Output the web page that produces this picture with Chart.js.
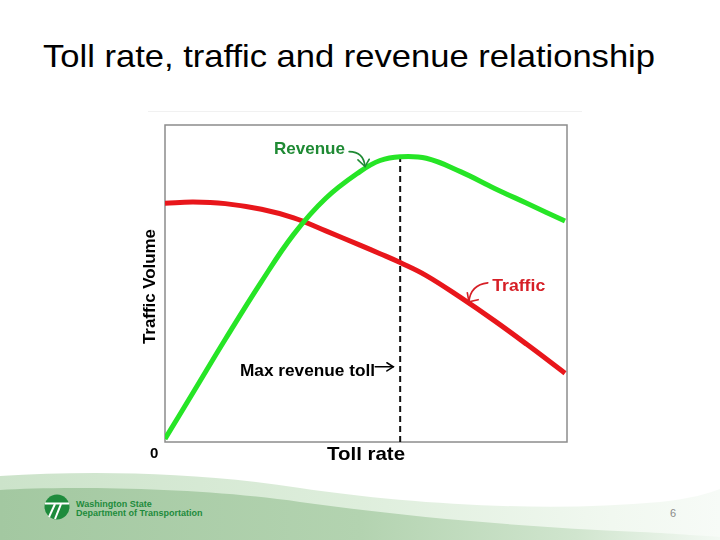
<!DOCTYPE html>
<html>
<head>
<meta charset="utf-8">
<script src="https://cdn.jsdelivr.net/npm/chart.js@4/dist/chart.umd.min.js"></script>
<style>
  html, body { margin: 0; padding: 0; background: #fff; }
  body { width: 720px; height: 540px; position: relative; overflow: hidden; font-family: 'Liberation Sans', Arial, sans-serif; }
  #title { position: absolute; left: 43px; top: 40px; font-size: 32px; line-height: 32px; color: #000; white-space: nowrap; transform-origin: 0 0; }
  #footer { position: absolute; left: 0; top: 0; }
  #chartWrap { position: absolute; left: 0; top: 0; width: 720px; height: 540px; }
  .org { position: absolute; left: 76px; font-size: 9px; font-weight: bold; color: #1e8b3c; white-space: nowrap; line-height: 9px; }
  #page { position: absolute; left: 670px; top: 508px; font-size: 11px; line-height: 11px; color: #8a8a8a; }
  #frame { position: absolute; left: 148px; top: 111px; width: 434px; height: 0; border-top: 1px solid #f1f1f1; }
</style>
</head>
<body>
<svg id="footer" width="720" height="540" viewBox="0 0 720 540">
  <defs>
    <linearGradient id="gLight" x1="0" y1="0" x2="1" y2="0">
      <stop offset="0" stop-color="#cce3ca"/>
      <stop offset="0.5" stop-color="#deeedc"/>
      <stop offset="0.85" stop-color="#f1f8f0"/>
      <stop offset="1" stop-color="#f7fbf7"/>
    </linearGradient>
    <linearGradient id="gDark" x1="0" y1="0" x2="1" y2="0">
      <stop offset="0" stop-color="#a3c8a1"/>
      <stop offset="0.5" stop-color="#b3d3b0"/>
      <stop offset="0.8" stop-color="#d0e5ce"/>
      <stop offset="1" stop-color="#f3f9f3"/>
    </linearGradient>
  </defs>
  <path d="M0,476 C90,470 200,472 300,488 C400,503 540,513 660,502 C690,499 710,493 720,489 L720,540 L0,540 Z" fill="url(#gLight)"/>
  <path d="M0,490 C60,486 200,487 300,502 C400,516 520,527 640,532 C680,534 705,536 720,537 L720,540 L0,540 Z" fill="url(#gDark)"/>
  <circle cx="57" cy="507" r="12.5" fill="#1e8b3c"/>
  <line x1="45" y1="503.5" x2="69" y2="503.5" stroke="#fff" stroke-width="2"/>
  <line x1="55" y1="504" x2="49" y2="517" stroke="#fff" stroke-width="2"/>
  <line x1="61" y1="504" x2="55" y2="519" stroke="#fff" stroke-width="2"/>
</svg>
<div id="frame"></div>
<div id="title">Toll rate, traffic and revenue relationship</div>
<div class="org" style="top:500px">Washington State</div>
<div class="org" style="top:508.5px">Department of Transportation</div>
<div id="page">6</div>
<div id="chartWrap"><canvas id="c" width="720" height="540"></canvas></div>
<script>
// ---- data (x = toll rate, 0-100 scale of the plot width) ----
const tollRate = [0, 7, 15, 24, 32, 40, 48.5, 53.5, 58.5, 65, 73.5, 82, 90, 99.5];
const revenue  = [1.0, 15.6, 32.4, 50.6, 65.5, 76.9, 85.3, 88.8, 90.0, 89.5, 85.3, 80.0, 75.3, 69.7];
const traffic  = [75.3, 75.7, 75.2, 73.4, 70.7, 66.6, 62.1, 59.4, 56.6, 52.5, 45.6, 38.2, 30.8, 21.7];
const maxRevenueToll = 58.5;
const maxRevenueLineTop = 90.5;
const labels = { revenue: 'Revenue', traffic: 'Traffic', maxToll: 'Max revenue toll', xTitle: 'Toll rate', yTitle: 'Traffic Volume', origin: '0' };

// stretch title to its reference width
(function(){
  const t = document.getElementById('title');
  const w = t.getBoundingClientRect().width;
  t.style.transform = 'scaleX(' + (612 / w) + ')';
})();

const FONT = "'Liberation Sans', Arial, sans-serif";
const GREEN_TXT = '#1f8a34', RED_TXT = '#d61f26';

// draw text (left-aligned at x) horizontally fitted to a width
function fitText(ctx, text, x, y, width) {
  const w = ctx.measureText(text).width;
  ctx.save();
  ctx.translate(x, y);
  ctx.scale(width / w, 1);
  ctx.textAlign = 'left';
  ctx.fillText(text, 0, 0);
  ctx.restore();
}

const annotate = {
  id: 'annotate',
  beforeDatasetsDraw(chart) {
    const ca = chart.chartArea, ctx = chart.ctx;
    ctx.save();
    ctx.strokeStyle = '#8c8c8c';
    ctx.lineWidth = 1.5;
    ctx.strokeRect(ca.left, ca.top, ca.right - ca.left, ca.bottom - ca.top);
    ctx.restore();
  },
  afterDraw(chart) {
    const ctx = chart.ctx, xs = chart.scales.x, ys = chart.scales.y;
    const X = v => xs.getPixelForValue(v), Y = v => ys.getPixelForValue(v);
    ctx.save();
    ctx.textBaseline = 'alphabetic';
    // Revenue label + arrow
    ctx.font = 'bold 17px ' + FONT; ctx.fillStyle = GREEN_TXT;
    fitText(ctx, labels.revenue, X(27.1), Y(90.85), 71);
    ctx.strokeStyle = GREEN_TXT; ctx.lineWidth = 1.6; ctx.lineCap = 'round';
    ctx.beginPath(); ctx.moveTo(X(45.8), Y(91.6));
    ctx.quadraticCurveTo(X(49.4), Y(91.6), X(49.75), Y(86.9)); ctx.stroke();
    ctx.beginPath(); ctx.moveTo(X(48.0), Y(89.0)); ctx.lineTo(X(49.75), Y(86.9)); ctx.lineTo(X(50.8), Y(89.2)); ctx.stroke();
    // Traffic label + arrow
    ctx.fillStyle = RED_TXT; ctx.font = 'bold 17px ' + FONT;
    fitText(ctx, labels.traffic, X(81.4), Y(47.6), 53);
    ctx.strokeStyle = RED_TXT;
    ctx.beginPath(); ctx.moveTo(X(80.3), Y(50.2));
    ctx.quadraticCurveTo(X(76.0), Y(49.6), X(75.6), Y(44.2)); ctx.stroke();
    ctx.beginPath(); ctx.moveTo(X(75.2), Y(47.1)); ctx.lineTo(X(75.6), Y(44.2)); ctx.lineTo(X(77.9), Y(44.9)); ctx.stroke();
    // Max revenue toll label + arrow
    ctx.fillStyle = '#000'; ctx.font = 'bold 16px ' + FONT;
    fitText(ctx, labels.maxToll, X(18.66), Y(20.8), 135);
    ctx.strokeStyle = '#000'; ctx.lineWidth = 1.5;
    ctx.beginPath(); ctx.moveTo(X(52.3), Y(23.7)); ctx.lineTo(X(56.8), Y(23.7)); ctx.stroke();
    ctx.beginPath(); ctx.moveTo(X(55.2), Y(25.0)); ctx.lineTo(X(56.8), Y(23.7)); ctx.lineTo(X(55.2), Y(22.4)); ctx.stroke();
    // axis titles
    ctx.font = 'bold 19px ' + FONT;
    fitText(ctx, labels.xTitle, X(50) - 39, Y(-5.68), 78);
    ctx.font = 'bold 15px ' + FONT; ctx.textAlign = 'center';
    ctx.fillText(labels.origin, X(-2.7), Y(-5.05));
    ctx.translate(X(-2.49), Y(49.05));
    ctx.rotate(-Math.PI / 2);
    ctx.font = 'bold 16px ' + FONT;
    fitText(ctx, labels.yTitle, -57.5, 0, 115);
    ctx.restore();
  }
};

const pts = arr => tollRate.map((x, i) => ({ x: x, y: arr[i] }));

new Chart(document.getElementById('c'), {
  type: 'line',
  data: {
    datasets: [
      { label: 'Revenue', data: pts(revenue), borderColor: '#26e526', borderWidth: 5, pointRadius: 0, tension: 0.4, order: 0 },
      { label: 'Traffic', data: pts(traffic), borderColor: '#e8161b', borderWidth: 5, pointRadius: 0, tension: 0.4, order: 1 },
      { label: 'Max revenue toll', data: [{ x: maxRevenueToll, y: 0 }, { x: maxRevenueToll, y: maxRevenueLineTop }], borderColor: '#111', borderWidth: 2, borderDash: [6, 4], pointRadius: 0, order: 2 }
    ]
  },
  options: {
    responsive: false,
    animation: false,
    devicePixelRatio: 1,
    layout: { padding: { left: 165, top: 125, right: 153, bottom: 98 } },
    plugins: { legend: { display: false }, tooltip: { enabled: false }, title: { display: false } },
    scales: {
      x: { type: 'linear', min: 0, max: 100, display: false },
      y: { type: 'linear', min: 0, max: 100, display: false }
    }
  },
  plugins: [annotate]
});
</script>
</body>
</html>
